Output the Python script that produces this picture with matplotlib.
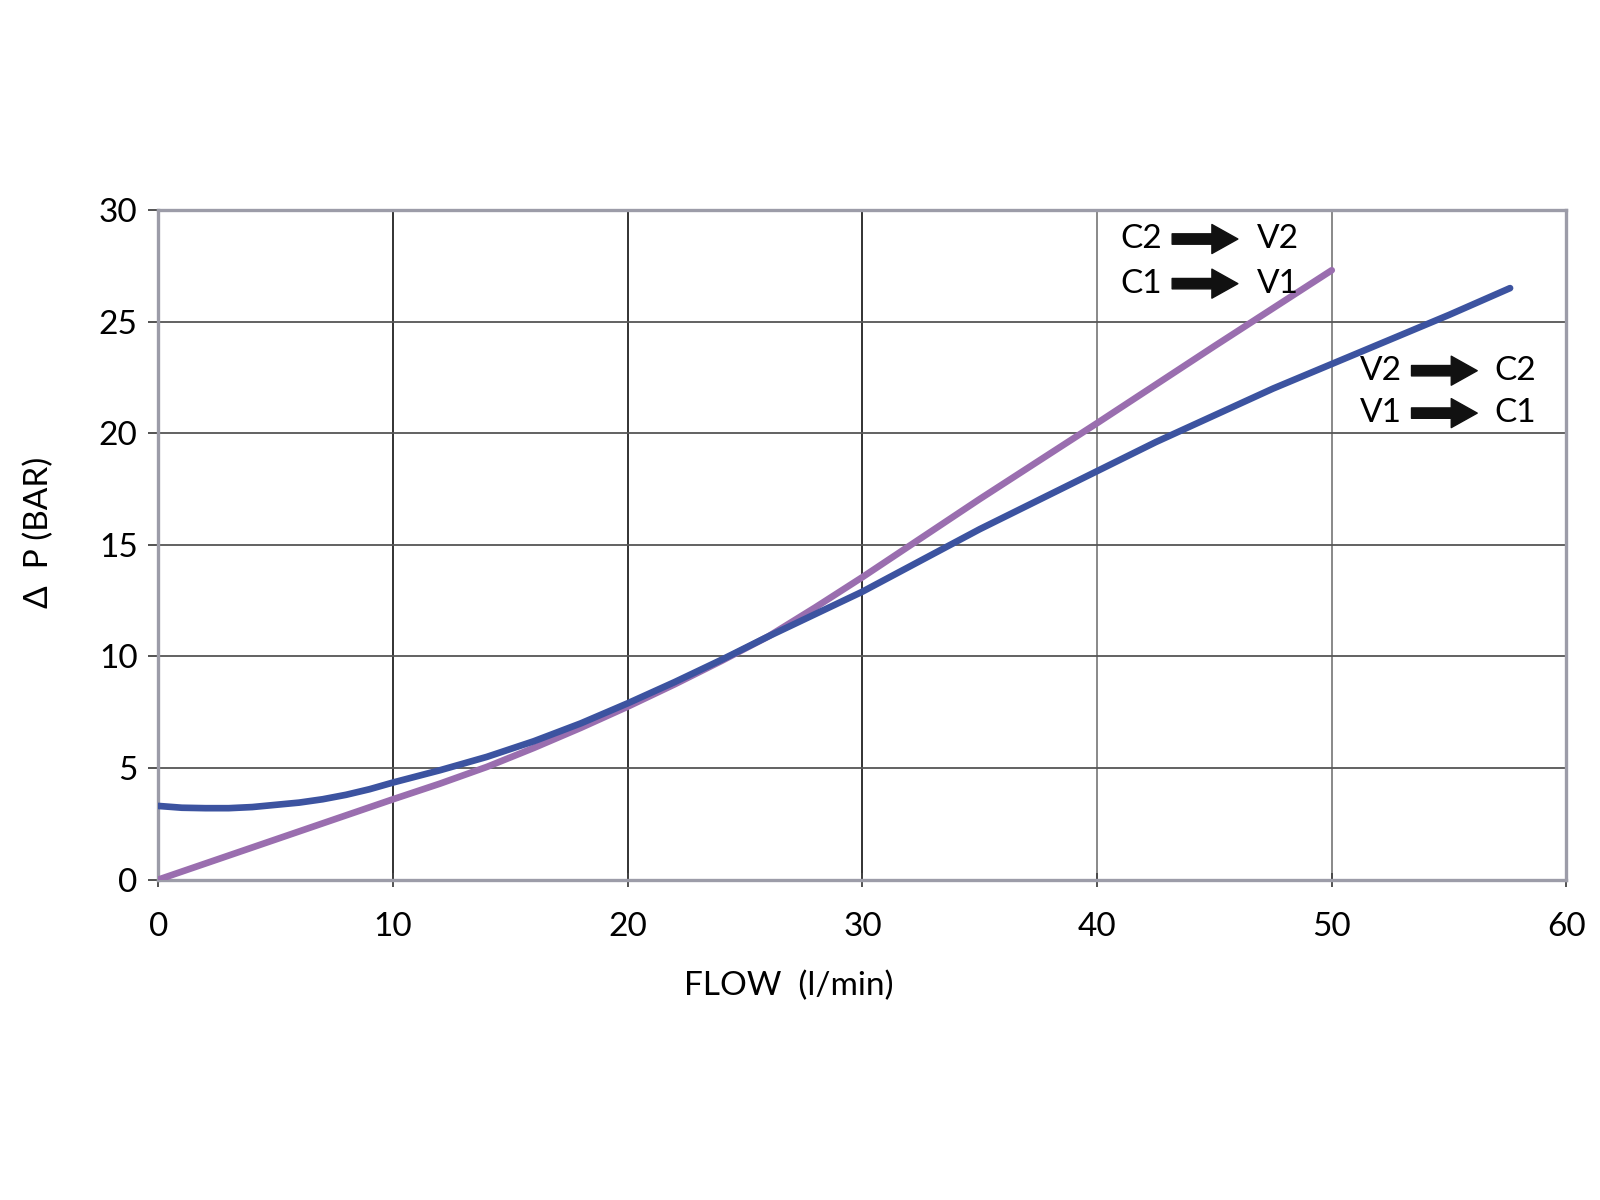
import numpy as np
import matplotlib.pyplot as plt

plt.rcParams['font.family'] = ['Lato', 'DejaVu Sans']

# C -> V curve (purple)
flow_cv = [0, 5, 10, 12, 14, 16, 18, 20, 22, 24, 26, 28, 30, 32, 35, 40, 45, 50]
dp_cv = [0, 1.8, 3.6, 4.3, 5.05, 5.9, 6.8, 7.75, 8.75, 9.8, 10.9, 12.2, 13.55, 14.95,
         17.05, 20.45, 23.9, 27.3]

# V -> C curve (blue)
flow_vc = [0, 1, 2, 3, 4, 5, 6, 7, 8, 9, 10, 12, 14, 16, 18, 20, 22, 24, 26, 28, 30,
           32.5, 35, 37.5, 40, 42.5, 45, 47.5, 50, 52.5, 55, 57.6]
dp_vc = [3.3, 3.22, 3.2, 3.2, 3.25, 3.35, 3.45, 3.6, 3.8, 4.05, 4.35, 4.9, 5.5, 6.2,
         7.0, 7.9, 8.85, 9.85, 10.9, 11.9, 12.9, 14.3, 15.7, 17.0, 18.3, 19.6, 20.8,
         22.0, 23.1, 24.2, 25.3, 26.5]

x_ticks = [0, 10, 20, 30, 40, 50, 60]
y_ticks = [0, 5, 10, 15, 20, 25, 30]

fig = plt.figure(figsize=(16, 12), dpi=100)
ax = fig.add_axes([0.099, 0.267, 0.880, 0.558])

# grid
for x in x_ticks[1:-1]:
    ax.axvline(x, color='#222222' if x <= 30 else '#808080', lw=1.3, zorder=1)
for y in y_ticks[1:-1]:
    ax.axhline(y, color='#555555', lw=1.3, zorder=1)

ax.plot(flow_cv, dp_cv, color='#9a6eaf', lw=4.8, solid_capstyle='round',
        solid_joinstyle='round', zorder=3)
ax.plot(flow_vc, dp_vc, color='#3c53a0', lw=4.8, solid_capstyle='round',
        solid_joinstyle='round', zorder=3)

ax.set_xlim(0, 60)
ax.set_ylim(0, 30)
ax.set_xticks(x_ticks)
ax.set_yticks(y_ticks)
for s in ax.spines.values():
    s.set_color('#9c9ca8')
    s.set_linewidth(2.4)
ax.tick_params(axis='x', length=10, width=1.3, color='#444444', direction='inout',
               labelsize=24, pad=18)
ax.tick_params(axis='y', length=7, width=1.3, color='#444444', direction='out',
               labelsize=24, pad=8)

ax.set_xlabel('FLOW  (l/min)', fontsize=24, va='center')
ax.xaxis.set_label_coords(0.448, -0.159)
ax.set_ylabel('Δ  P (BAR)', fontsize=24, va='center')
ax.yaxis.set_label_coords(-0.085, 0.518)

# direction annotations
arrow = dict(arrowstyle='simple,head_length=0.85,head_width=0.95,tail_width=0.34',
             color='#111111', mutation_scale=22, shrinkA=0, shrinkB=0)
labels = [('C2', 'V2', 41.9, 28.7, 43.2, 46.0, 47.7),
          ('C1', 'V1', 41.9, 26.7, 43.2, 46.0, 47.7),
          ('V2', 'C2', 52.1, 22.8, 53.4, 56.2, 57.8),
          ('V1', 'C1', 52.1, 20.9, 53.4, 56.2, 57.8)]
for a, b, xa, y, x0, x1, xb in labels:
    ax.text(xa, y, a, fontsize=24, ha='center', va='center', zorder=4)
    ax.text(xb, y, b, fontsize=24, ha='center', va='center', zorder=4)
    ax.annotate('', xy=(x1, y), xytext=(x0, y), arrowprops=arrow, zorder=4)

fig.savefig('out.png', dpi=100)
